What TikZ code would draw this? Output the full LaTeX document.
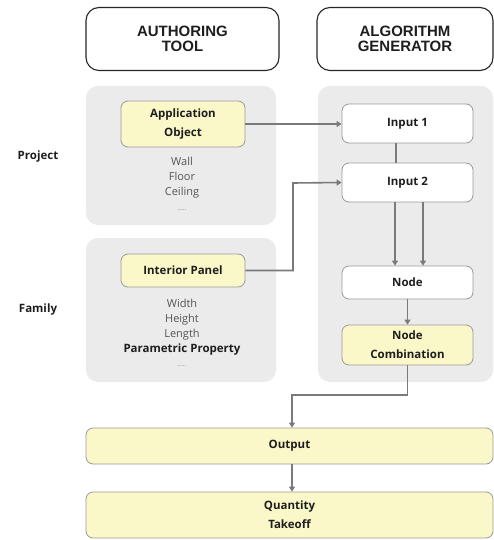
\documentclass[tikz,border=0pt]{standalone}
\usepackage{fontspec}
\setmainfont{Liberation Sans}
\newfontfamily\bodyfont{Open Sans}
\usetikzlibrary{arrows.meta,positioning,calc}
\definecolor{panelgray}{HTML}{EBEBEB}
\definecolor{boxyellow}{HTML}{FAF8C8}
\definecolor{boxborder}{HTML}{9A9A9A}
\definecolor{linegray}{HTML}{7A7A7A}
\definecolor{txtdark}{HTML}{1E1E1E}
\definecolor{txtgray}{HTML}{555555}
\tikzset{
  header/.style={draw=black!85, line width=1.1pt, rounded corners=13pt, fill=white, align=center,
    font=\fontsize{15}{15}\selectfont\bfseries, text=txtdark, inner sep=0pt},
  panel/.style={fill=panelgray, draw=none, rounded corners=12pt},
  whitebox/.style={draw=boxborder, line width=0.8pt, rounded corners=7pt, fill=white, align=center,
    font=\bodyfont\fontsize{11.5}{19}\selectfont\bfseries, text=txtdark, inner sep=0pt},
  yelbox/.style={whitebox, fill=boxyellow},
  sidelabel/.style={font=\bodyfont\fontsize{11.5}{14}\selectfont\bfseries, text=txtdark},
  listtext/.style={align=center, font=\bodyfont\fontsize{11}{15}\selectfont, text=txtgray},
  dots/.style={font=\bodyfont\fontsize{7}{7}\selectfont, text=black!40},
  conn/.style={draw=linegray, line width=1.6pt},
  arr/.style={conn, -{Triangle[length=5pt,width=6pt]}}
}
\begin{document}
\begin{tikzpicture}[x=1pt,y=-1pt]
\useasboundingbox (0,0) rectangle (494,540);
% headers
\node[header, minimum width=193pt, minimum height=63pt] (h1) at (182.5,39) {AUTHORING\\TOOL};
\node[header, minimum width=176pt, minimum height=63pt] (h2) at (405,39) {ALGORITHM\\GENERATOR};
% panels
\fill[panel] (86,86) rectangle (276,225);
\fill[panel] (86,238) rectangle (276,382);
\fill[panel] (318,86) rectangle (493,382);
% side labels
\node[sidelabel] (proj) at (38,157) {Project};
\node[sidelabel] (fam) at (38,310) {Family};
% left boxes
\node[yelbox, minimum width=124pt, minimum height=46pt] (app) at (183,124) {Application\\Object};
\node[listtext] (applist) at (182,178) {Wall\\Floor\\Ceiling};
\node[dots] (appdots) at (182,210) {.....};
\node[yelbox, minimum width=124pt, minimum height=33pt] (ip) at (183,270.5) {Interior Panel};
\node[listtext] (iplist) at (182,320) {Width\\Height\\Length};
\node[font=\bodyfont\fontsize{11.5}{14}\selectfont\bfseries, text=txtdark] (param) at (182,349.5) {Parametric Property};
\node[dots] (ipdots) at (182,366) {.....};
% right boxes
\node[whitebox, minimum width=131pt, minimum height=39pt] (in1) at (407.5,123.5) {Input 1};
\node[whitebox, minimum width=131pt, minimum height=39pt] (in2) at (407.5,182.5) {Input 2};
\node[whitebox, minimum width=131pt, minimum height=33pt] (nd) at (407.5,282.5) {Node};
\node[yelbox, minimum width=131pt, minimum height=40pt] (nc) at (407.5,345) {Node\\Combination};
% bottom boxes
\node[yelbox, minimum width=407pt, minimum height=36pt] (out) at (289.5,446) {Output};
\node[yelbox, minimum width=407pt, minimum height=46pt] (qt) at (289.5,515) {Quantity\\Takeoff};
% connectors
\coordinate (bend) at (292,395);
\coordinate (up) at (293,183);
\draw[arr] (app.east) -- (app.east -| in1.west);
\draw[arr] (ip.east) -| (up) -- (in2.west);
\draw[conn] ([xshift=-11.5pt]in1.south) -- ([xshift=-11.5pt]in2.north);
\draw[arr] ([xshift=-12.5pt]in2.south) -- ([xshift=-12.5pt]nd.north);
\draw[arr] ([xshift=15.5pt]in2.south) -- ([xshift=15.5pt]nd.north);
\draw[arr] (nd.south) -- (nc.north);
\draw[arr] (nc.south) |- (bend) -- (bend |- out.north);
\draw[arr] (bend |- out.south) -- (bend |- qt.north);
\end{tikzpicture}
\end{document}
